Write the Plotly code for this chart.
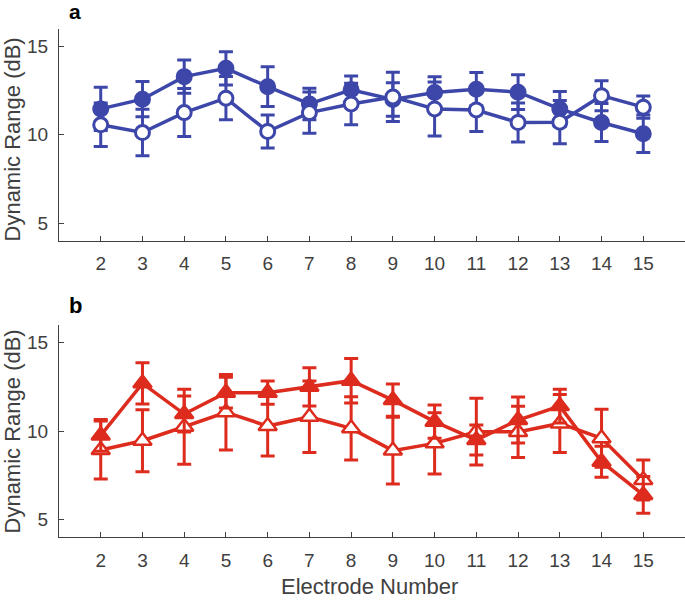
import plotly.graph_objects as go

electrodes = [2, 3, 4, 5, 6, 7, 8, 9, 10, 11, 12, 13, 14, 15]

# Panel a (blue circles)
a_filled = [11.47, 12.02, 13.30, 13.77, 12.73, 11.75, 12.55, 12.00, 12.40, 12.59, 12.42, 11.47, 10.70, 10.06]
a_filled_err = [1.23, 1.00, 0.94, 0.94, 1.13, 0.89, 0.79, 0.95, 0.90, 0.94, 0.98, 0.98, 1.08, 1.06]
a_open = [10.57, 10.13, 11.26, 12.08, 10.19, 11.26, 11.75, 12.15, 11.47, 11.41, 10.70, 10.72, 12.22, 11.57]
a_open_err = [1.23, 1.32, 1.36, 1.23, 0.94, 1.17, 1.18, 1.40, 1.53, 1.22, 1.11, 1.23, 0.85, 0.63]

# Panel b (red triangles)
b_filled = [9.75, 12.70, 10.96, 12.17, 12.17, 12.50, 12.85, 11.75, 10.53, 9.49, 10.62, 11.41, 8.26, 6.38]
b_filled_err = [0.90, 1.17, 1.02, 0.87, 0.66, 1.08, 1.26, 0.91, 0.94, 0.85, 1.30, 0.95, 0.88, 1.04]
b_open = [8.92, 9.45, 10.24, 11.06, 10.28, 10.81, 10.15, 8.89, 9.30, 9.96, 9.95, 10.43, 9.59, 7.23]
b_open_err = [1.64, 1.75, 2.12, 2.14, 1.70, 2.02, 1.79, 1.89, 1.73, 1.89, 1.45, 1.64, 1.64, 1.13]

y_ticks = [5, 10, 15]

BLUE = "#3D47A9"
RED = "#DD2C1E"
AXC = "#404040"
FONT = "Liberation Sans, Arial, Helvetica, sans-serif"


def series(x, y, err, color, symbol, filled, xa, ya, size):
    return go.Scatter(
        x=x, y=y, xaxis=xa, yaxis=ya, mode="lines+markers",
        line=dict(color=color, width=3.5),
        marker=dict(symbol=symbol, size=size,
                    color=color if filled else "white",
                    line=dict(color=color, width=3 if symbol == "circle" else 2.5)),
        error_y=dict(type="data", array=err, visible=True, color=color,
                     thickness=3, width=7),
        showlegend=False, cliponaxis=False,
    )


fig = go.Figure()
# panel a: filled first, open on top
fig.add_trace(series(electrodes, a_filled, a_filled_err, BLUE, "circle", True, "x", "y", 14))
fig.add_trace(series(electrodes, a_open, a_open_err, BLUE, "circle", False, "x", "y", 14))
# panel b: open first, filled on top
fig.add_trace(series(electrodes, b_open, b_open_err, RED, "triangle-up", False, "x2", "y2", 16))
fig.add_trace(series(electrodes, b_filled, b_filled_err, RED, "triangle-up", True, "x2", "y2", 16))

xax = dict(range=[1, 16], tickvals=electrodes, ticks="inside", ticklen=5,
           tickcolor=AXC, showline=True, linecolor=AXC, linewidth=1,
           showgrid=False, zeroline=False, mirror=False, automargin=False,
           tickfont=dict(size=19, color=AXC, family=FONT), ticklabelstandoff=6)
yax = dict(range=[4, 16], tickvals=y_ticks, ticks="inside", ticklen=5,
           tickcolor=AXC, showline=True, linecolor=AXC, linewidth=1,
           showgrid=False, zeroline=False, mirror=False, automargin=False,
           tickfont=dict(size=19, color=AXC, family=FONT), ticklabelstandoff=6)

fig.update_layout(
    width=685, height=600,
    margin=dict(l=59, r=0, t=29, b=63, autoexpand=False),
    plot_bgcolor="white", paper_bgcolor="white",
    font=dict(family=FONT, color=AXC),
    xaxis=dict(xax, domain=[0, 1], anchor="y"),
    yaxis=dict(yax, domain=[0.5833, 1], anchor="x"),
    xaxis2=dict(xax, domain=[0, 1], anchor="y2"),
    yaxis2=dict(yax, domain=[0, 0.4173], anchor="x2"),
)

ann = [
    dict(text="Electrode Number", x=0.4968, y=-0.098, xref="paper", yref="paper",
         showarrow=False, xanchor="center", yanchor="middle",
         font=dict(size=22, color=AXC, family=FONT)),
    dict(text="Dynamic Range (dB)", x=(12.5 - 59) / 626, y=0.7815, xref="paper", yref="paper",
         showarrow=False, xanchor="center", yanchor="middle", textangle=-90,
         font=dict(size=22, color=AXC, family=FONT)),
    dict(text="Dynamic Range (dB)", x=(12.5 - 59) / 626, y=0.2067, xref="paper", yref="paper",
         showarrow=False, xanchor="center", yanchor="middle", textangle=-90,
         font=dict(size=22, color=AXC, family=FONT)),
    dict(text="<b>a</b>", x=0.0256, y=(537 - 11.5) / 508, xref="paper", yref="paper",
         showarrow=False, xanchor="center", yanchor="middle",
         font=dict(size=21, color="black", family=FONT)),
    dict(text="<b>b</b>", x=0.0256, y=(537 - 306) / 508, xref="paper", yref="paper",
         showarrow=False, xanchor="center", yanchor="middle",
         font=dict(size=22, color="black", family=FONT)),
]
fig.update_layout(annotations=ann)

fig.write_html("out.html", config={"displayModeBar": False},
               post_script="document.body.style.margin='0';document.body.style.overflow='hidden';")
